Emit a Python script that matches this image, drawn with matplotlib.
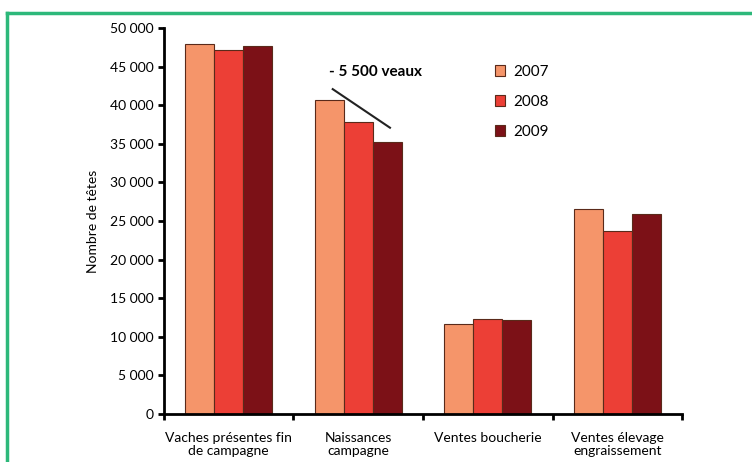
import matplotlib
matplotlib.use("Agg")
import matplotlib.pyplot as plt
from matplotlib.lines import Line2D
from matplotlib.ticker import FuncFormatter
import numpy as np

plt.rcParams['font.family'] = ['Lato', 'DejaVu Sans']

categories = ["Vaches présentes fin\nde campagne", "Naissances\ncampagne",
              "Ventes boucherie", "Ventes élevage\nengraissement"]
years = ["2007", "2008", "2009"]
values_2007 = [47900, 40700, 11700, 26600]
values_2008 = [47200, 37900, 12300, 23700]
values_2009 = [47700, 35200, 12200, 25900]
colors = ["#F5956A", "#EC3F36", "#7C1117"]
annotation = "- 5 500 veaux"

fig = plt.figure(figsize=(7.52, 4.62), dpi=100)
ax = fig.add_axes([0.218, 0.104, 0.689, 0.835])

x = np.arange(len(categories))
w = 0.224
for i, (vals, c, lab) in enumerate(zip([values_2007, values_2008, values_2009], colors, years)):
    ax.bar(x + (i - 1) * w, vals, w, color=c, edgecolor="#5a2a1a", linewidth=0.8, label=lab)

ax.set_xlim(-0.5, len(categories) - 0.5)
ax.set_ylim(0, 50000)
ax.set_yticks(np.arange(0, 50001, 5000))
ax.yaxis.set_major_formatter(FuncFormatter(lambda v, p: f"{int(v):,}".replace(",", " ")))
ax.set_xticks(np.arange(len(categories) + 1) - 0.5)
ax.set_xticklabels([])
for xi, lab in zip(x, categories):
    ax.text(xi, -2300, lab, ha="center", va="top", fontsize=10, linespacing=1.1)

for s in ["top", "right"]:
    ax.spines[s].set_visible(False)
for s in ["left", "bottom"]:
    ax.spines[s].set_linewidth(2)
ax.tick_params(axis="both", direction="out", length=4, width=2, labelsize=10)
ax.set_ylabel("Nombre de têtes", fontsize=10, labelpad=8)

# annotation line on the Naissances group
ax.plot([1 - 0.197, 1 + 0.245], [42100, 37100], color="#222222", lw=1.5)
ax.text(1.13, 44300, annotation, ha="center", va="center", fontsize=11, fontweight="bold")

ax.legend(frameon=False, loc="upper left", bbox_to_anchor=(0.612, 0.94), fontsize=11,
          handlelength=0.7, handleheight=0.7, handletextpad=0.5, labelspacing=1.05)

# green frame
fig.add_artist(Line2D([7 / 752, 1.0], [1 - 13 / 462, 1 - 13 / 462], color="#2DB87A", lw=2.5,
                      transform=fig.transFigure))
fig.add_artist(Line2D([7 / 752, 7 / 752], [0, 1 - 13 / 462], color="#2DB87A", lw=2.5,
                      transform=fig.transFigure))

fig.savefig("out.png", dpi=100)
